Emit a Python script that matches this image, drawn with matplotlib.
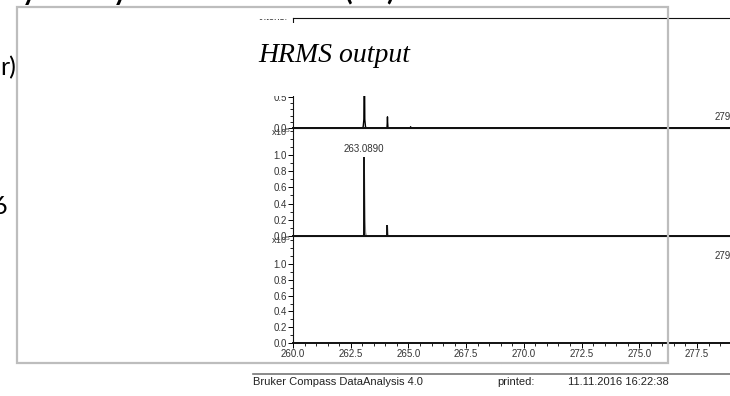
import matplotlib.pyplot as plt
from matplotlib.patches import Rectangle
from matplotlib.lines import Line2D
from matplotlib.ticker import FixedLocator, MultipleLocator

plt.rcParams['font.family'] = ['Liberation Sans', 'DejaVu Sans']
plt.rcParams['mathtext.default'] = 'regular'

# measured spectrum (intensity x10^5)
mz_meas = [259.0, 263.00, 263.04, 263.07, 263.085, 263.089, 263.093, 263.11, 263.14, 263.18,
           264.07, 264.085, 264.092, 264.099, 264.115, 265.08, 265.095, 265.11,
           279.10, 279.13, 279.16, 281.0]
int_meas = [0.0, 0.0, 0.02, 0.14, 1.20, 1.60, 1.20, 0.14, 0.02, 0.0,
            0.0, 0.10, 0.18, 0.10, 0.0, 0.0, 0.02, 0.0,
            0.0, 0.06, 0.0, 0.0]

# simulated pattern: sticks and profile
mz_sim = [263.0890, 264.0920, 265.0950]
int_sim = [0.98, 0.14, 0.015]
mz_prof = [259.0, 262.99, 263.03, 263.05, 263.07, 263.089, 263.108, 263.128, 263.148, 263.19,
           264.05, 264.07, 264.092, 264.114, 264.13, 281.0]
int_prof = [0.0, 0.0, 0.05, 0.20, 0.55, 0.98, 0.55, 0.20, 0.05, 0.0,
            0.0, 0.05, 0.14, 0.05, 0.0, 0.0]

# second simulated pattern
mz_sim2 = [279.13]
int_sim2 = [1.0]

W, H = 730, 396
PX_PER_MZ = 404 / 17.5
X0, X1 = 293, 730


def fx(x):
    return x / W


def fy(y):
    return 1 - y / H


def panel(top, bottom, px_per_unit, majors, minor_step):
    ax = fig.add_axes([fx(X0), fy(bottom), fx(X1) - fx(X0), (bottom - top) / H])
    ax.set_xlim(260, 260 + (X1 - X0) / PX_PER_MZ)
    ax.set_ylim(0, (bottom - top) / px_per_unit)
    ax.spines['right'].set_visible(False)
    for s in ('left', 'top', 'bottom'):
        ax.spines[s].set_linewidth(0.8)
        ax.spines[s].set_color('#111111')
    ax.spines['bottom'].set_linewidth(1.4)
    ax.yaxis.set_major_locator(FixedLocator(majors))
    ax.yaxis.set_minor_locator(MultipleLocator(minor_step))
    ax.set_yticklabels(['%.1f' % v for v in majors])
    ax.tick_params(axis='y', which='major', direction='out', length=3.5, width=0.7,
                   labelsize=7, pad=1, labelcolor='#333333')
    ax.tick_params(axis='y', which='minor', direction='out', length=2, width=0.6)
    ax.set_xticks([])
    ax.patch.set_alpha(0)
    return ax


def peak_label(ax, text, x, y):
    ax.annotate(text, (x, y), xytext=(0, 2), textcoords='offset points', annotation_clip=False,
                ha='center', va='bottom', fontsize=7, color='#333333')


fig = plt.figure(figsize=(7.3, 3.96), dpi=100)

ax1 = panel(18, 128, 62, [0.0, 0.5, 1.0, 1.5], 0.1)
ax1.plot(mz_meas, int_meas, color='black', lw=1.0)
peak_label(ax1, '279.1047', mz_sim2[0], 0.06)

ax2 = panel(128, 236, 81, [0.0, 0.2, 0.4, 0.6, 0.8, 1.0], 0.1)
ax2.fill_between(mz_prof, int_prof, color='#8a8a8a', lw=0)
ax2.plot([259, 281], [0, 0], color='black', lw=0.9)
ax2.vlines(mz_sim, 0, int_sim, color='black', lw=1.3)
peak_label(ax2, '%.4f' % mz_sim[0], mz_sim[0], int_sim[0])

ax3 = panel(236, 343, 79, [0.0, 0.2, 0.4, 0.6, 0.8, 1.0], 0.1)
ax3.plot([259, 281], [0, 0], color='black', lw=0.9)
ax3.vlines(mz_sim2, 0, int_sim2, color='black', lw=1.3)
peak_label(ax3, '279.1047', mz_sim2[0], int_sim2[0])
ax3.set_xticks([260.0, 262.5, 265.0, 267.5, 270.0, 272.5, 275.0, 277.5])
ax3.xaxis.set_minor_locator(MultipleLocator(0.5))
ax3.set_xticklabels(['%.1f' % v for v in ax3.get_xticks()])
ax3.tick_params(axis='x', which='major', direction='out', length=3.5, width=0.7,
                labelsize=7, pad=1, labelcolor='#333333')
ax3.tick_params(axis='x', which='minor', direction='out', length=2.5, width=0.6)

for ytop in (132, 240):
    fig.text(fx(291), fy(ytop), 'x10$^5$', ha='right', va='center', fontsize=6.5, color='#333333')

fig.text(fx(258), fy(22.5), 'Intens.', ha='left', va='bottom', fontsize=7, color='#333333', zorder=0.5)

# white boxes laid over the spectrum
fig.patches.append(Rectangle((fx(250), fy(18.5)), fx(291) - fx(250), 10.5 / H, transform=fig.transFigure,
                             facecolor='white', edgecolor='none', zorder=1))
fig.patches.append(Rectangle((fx(250), fy(96)), fx(668) - fx(250), 73.5 / H, transform=fig.transFigure,
                             facecolor='white', edgecolor='none', zorder=1))
fig.text(fx(258), fy(62), 'HRMS output', family='Liberation Serif', style='italic',
         fontsize=20, ha='left', va='baseline', color='black')

# picture frame
fig.patches.append(Rectangle((fx(17), fy(363)), fx(668) - fx(17), (363 - 7) / H, transform=fig.transFigure,
                             fill=False, edgecolor='#bdbdbd', lw=1.6, zorder=2))

# footer
fig.lines.append(Line2D([fx(253), fx(730)], [fy(374), fy(374)], transform=fig.transFigure,
                        color='#777777', lw=1.2))
fig.text(fx(253), fy(382), 'Bruker Compass DataAnalysis 4.0', ha='left', va='center', fontsize=8, color='#222222')
fig.text(fx(497), fy(382), 'printed:', ha='left', va='center', fontsize=8, color='#222222')
fig.text(fx(568), fy(382), '11.11.2016 16:22:38', ha='left', va='center', fontsize=8, color='#222222')

# slide text around the frame
fig.text(fx(16), fy(68), 'r)', family=['Lato', 'DejaVu Sans'], fontsize=18, ha='right', va='center')
fig.text(fx(7), fy(207), '6', family=['Lato', 'DejaVu Sans'], fontsize=18, ha='right', va='center')
for s, x, ha in (('y', 22, 'left'), ('y', 113, 'left'), ('(', 345, 'left'), (')', 394, 'right')):
    fig.text(fx(x), fy(0), s, family=['Lato', 'DejaVu Sans'], fontweight='bold', fontsize=20,
             ha=ha, va='baseline')

fig.savefig('out.png', dpi=100)
